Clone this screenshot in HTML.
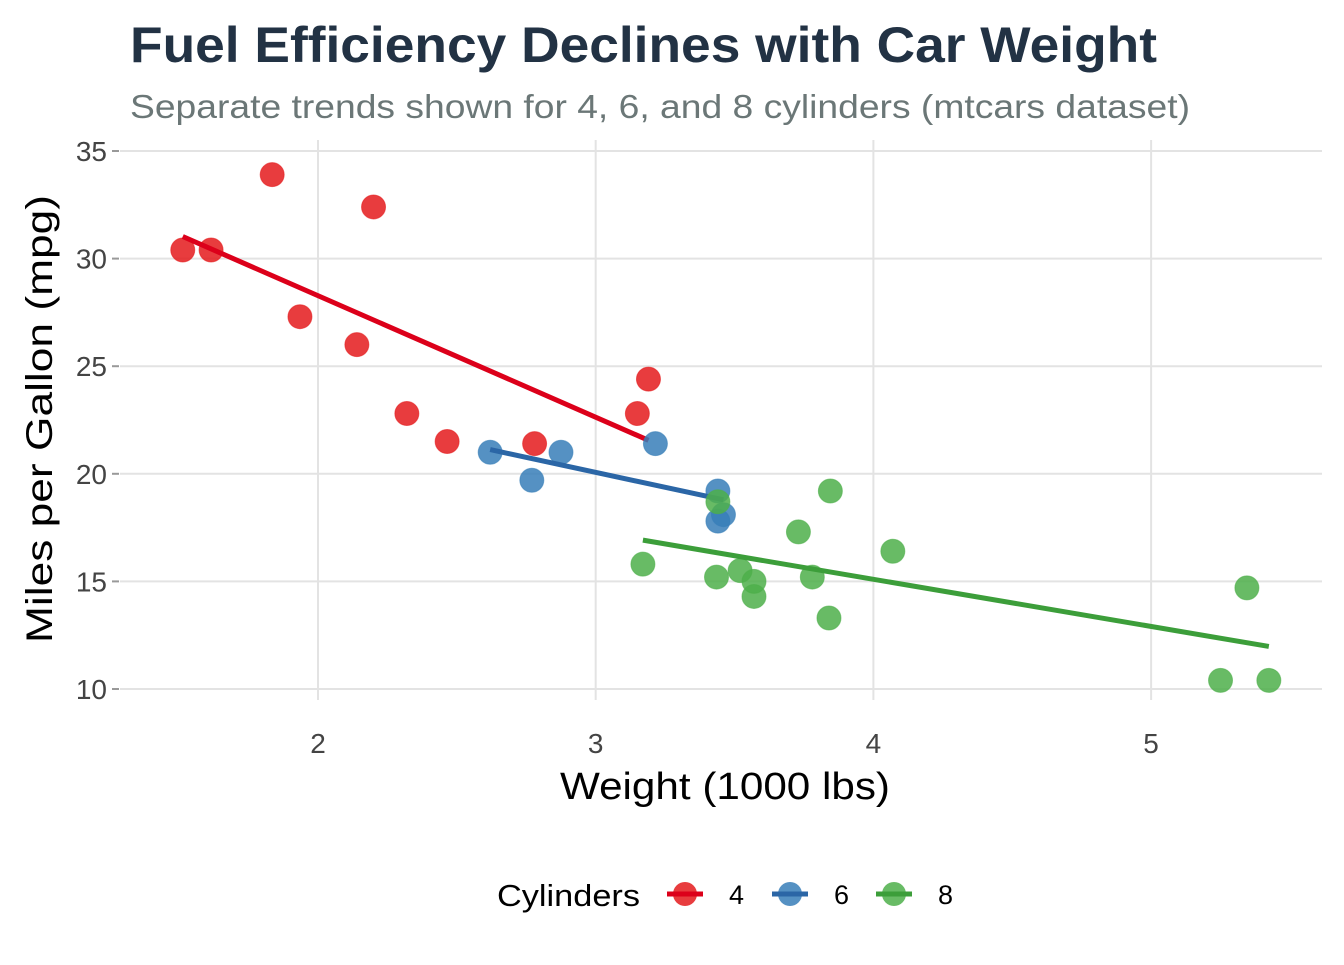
<!DOCTYPE html>
<html><head><meta charset="utf-8"><style>
body{margin:0;background:#fff;}
svg text{font-family:"Liberation Sans",sans-serif;}
</style></head><body>
<svg id="c" width="1344" height="960" xmlns="http://www.w3.org/2000/svg">
<text x="130" y="62" font-size="50" font-weight="bold" fill="#223244" textLength="1027" lengthAdjust="spacingAndGlyphs">Fuel Efficiency Declines with Car Weight</text>
<text x="130" y="118" font-size="33" fill="#6b7777" textLength="1060" lengthAdjust="spacingAndGlyphs">Separate trends shown for 4, 6, and 8 cylinders (mtcars dataset)</text>
<g id="grid"></g>
<g id="axes"></g>
<g id="marks"></g>
<text x="560" y="799" font-size="38" fill="#000" textLength="330" lengthAdjust="spacingAndGlyphs">Weight (1000 lbs)</text>
<text transform="translate(52,643) rotate(-90)" font-size="37" fill="#000" textLength="448" lengthAdjust="spacingAndGlyphs">Miles per Gallon (mpg)</text>
<g>
<text x="497" y="906" font-size="31" fill="#000" textLength="143" lengthAdjust="spacingAndGlyphs">Cylinders</text>
</g>
<g id="legend"></g>
</svg>
<script>
const cylGroups=["4","6","8"];
const colors={"4":"#E41A1C","6":"#377EB8","8":"#4DAF4A"};
const lineColors={"4":"#DC001A","6":"#2B66A6","8":"#3C9E3A"};
const wt=[2.620,2.875,2.320,3.215,3.440,3.460,3.570,3.190,3.150,3.440,3.440,4.070,3.730,3.780,5.250,5.424,5.345,2.200,1.615,1.835,2.465,3.520,3.435,3.840,3.845,1.935,2.140,1.513,3.170,2.770,3.570,2.780];
const mpg=[21.0,21.0,22.8,21.4,18.7,18.1,14.3,24.4,22.8,19.2,17.8,16.4,17.3,15.2,10.4,10.4,14.7,32.4,30.4,33.9,21.5,15.5,15.2,13.3,19.2,27.3,26.0,30.4,15.8,19.7,15.0,21.4];
const cyl=["6","6","4","6","8","6","8","4","4","6","6","8","8","8","8","8","8","4","4","4","4","8","8","8","8","4","4","4","8","6","8","4"];
const xTicks=[2,3,4,5];
const yTicks=[10,15,20,25,30,35];
const NS="http://www.w3.org/2000/svg";
const X=v=>318+(v-2)*277.7;
const Y=v=>689-(v-10)*21.52;
const L=120,R=1322,T=140,B=700;
function mk(tag,attrs,parent){const e=document.createElementNS(NS,tag);for(const k in attrs)e.setAttribute(k,attrs[k]);parent.appendChild(e);return e;}
const grid=document.getElementById('grid'),axes=document.getElementById('axes'),marks=document.getElementById('marks'),leg=document.getElementById('legend');
xTicks.forEach(t=>{
 const l=mk('line',{x1:X(t),x2:X(t),y1:T,y2:B,stroke:'#e3e3e3','stroke-width':2},grid);
 
 
 const tx=mk('text',{x:X(t),y:B+53,'font-size':28,'text-anchor':'middle',fill:'#444'},axes);
 tx.textContent=t;
 
 
});
yTicks.forEach(t=>{
 const l=mk('line',{x1:L,x2:R,y1:Y(t),y2:Y(t),stroke:'#e3e3e3','stroke-width':2},grid);
 
 
 const tk=mk('line',{x1:L-8,x2:L-1,y1:Y(t),y2:Y(t),stroke:'#999','stroke-width':2},axes);
 
 
 const tx=mk('text',{x:107,y:Y(t)+10,'font-size':28,'text-anchor':'end',fill:'#444'},axes);
 tx.textContent=t;
 
 
});
cylGroups.forEach(g=>{
 const idx=wt.map((w,i)=>i).filter(i=>cyl[i]===g);
 const xs=idx.map(i=>wt[i]),ys=idx.map(i=>mpg[i]);
 const n=xs.length,mx=xs.reduce((a,b)=>a+b)/n,my=ys.reduce((a,b)=>a+b)/n;
 let sxy=0,sxx=0;xs.forEach((x,k)=>{sxy+=(x-mx)*(ys[k]-my);sxx+=(x-mx)**2;});
 const b=sxy/sxx,a=my-b*mx,x0=Math.min(...xs),x1=Math.max(...xs);
 idx.forEach(i=>{
  const c=mk('circle',{cx:X(wt[i]),cy:Y(mpg[i]),r:12,fill:colors[g],'fill-opacity':0.85,stroke:colors[g],'stroke-opacity':0.6},marks);
  
  
 });
 const ln=mk('line',{x1:X(x0),y1:Y(a+b*x0),x2:X(x1),y2:Y(a+b*x1),stroke:lineColors[g],'stroke-width':5},marks);
 
 
});
const lx={"4":685,"6":790,"8":894};
cylGroups.forEach(g=>{
 const gg=mk('g',{},leg);
 
 
 mk('circle',{cx:lx[g],cy:894,r:12,fill:colors[g],'fill-opacity':0.85},gg);
 mk('line',{x1:lx[g]-18,x2:lx[g]+18,y1:894,y2:894,stroke:lineColors[g],'stroke-width':5},gg);
 const t=mk('text',{x:lx[g]+44,y:904,'font-size':27,'text-anchor':'start',fill:'#000'},gg);
 t.textContent=g;
});
</script>
</body></html>
